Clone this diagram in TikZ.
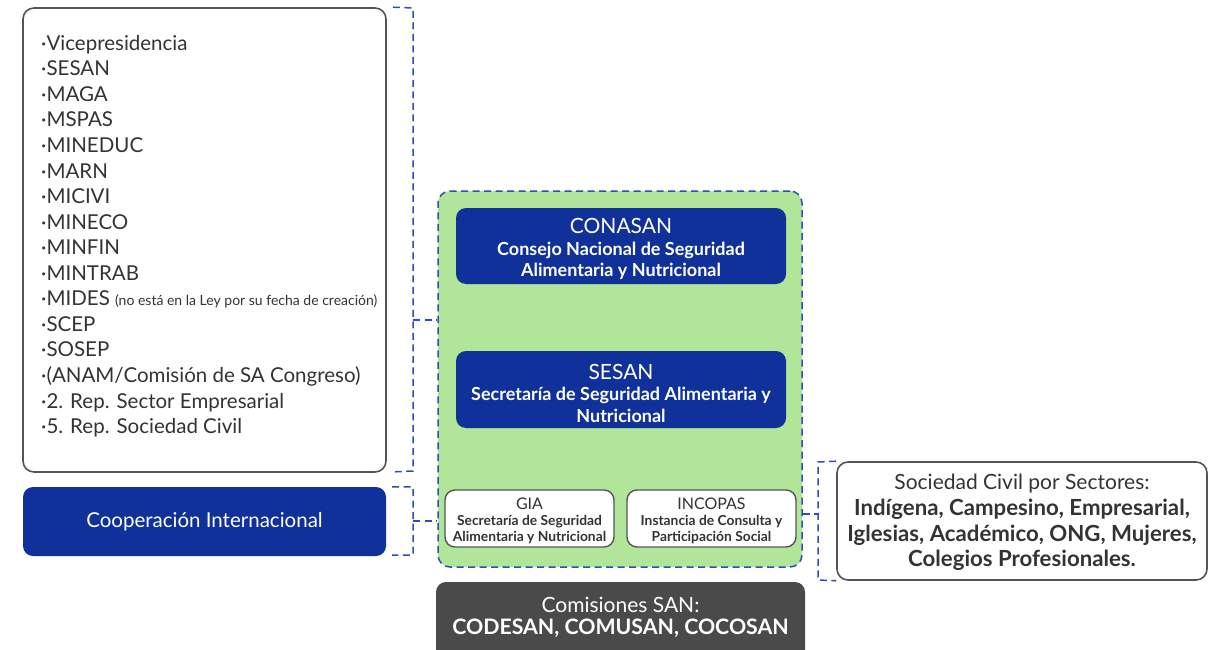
\documentclass[tikz,border=0pt]{standalone}
\usepackage{fontspec}
\setmainfont{Lato}
\usetikzlibrary{calc}
\definecolor{dblue}{HTML}{10309A}
\definecolor{lgreen}{HTML}{B0E59A}
\definecolor{dgray}{HTML}{4A4A4A}
\definecolor{tgray}{HTML}{333333}
\definecolor{bgray}{HTML}{555555}
\definecolor{dashblue}{HTML}{2E4DB5}
\newcommand{\fa}{\fontsize{21}{21.5}\selectfont\mdseries}
\newcommand{\fb}{\fontsize{18}{21.5}\selectfont\bfseries}
\newcommand{\fc}{\fontsize{16}{16}\selectfont\mdseries}
\newcommand{\fd}{\fontsize{13.8}{16}\selectfont\bfseries}
\newcommand{\fe}{\fontsize{21.3}{22}\selectfont\bfseries}
\newcommand{\ff}{\fontsize{22.2}{25.7}\selectfont\bfseries}
\tikzset{
  whitebox/.style={draw=bgray, line width=1.6pt, fill=white, rounded corners=11pt, inner sep=0pt},
  bluebox/.style={fill=dblue, rounded corners=10pt, text=white, align=center, inner sep=0pt},
  smallbox/.style={draw=bgray, line width=1.4pt, fill=white, rounded corners=10pt, align=center, text=tgray, inner sep=0pt},
  dashline/.style={draw=dashblue, line width=1.5pt, dash pattern=on 7pt off 4.5pt},
  lbl/.style={align=center, inner sep=0pt},
}
\begin{document}
\begin{tikzpicture}[x=1pt,y=-1pt]
\useasboundingbox (0,0) rectangle (1210,650);
% left list box
\node[whitebox, minimum width=363pt, minimum height=464pt] (list) at (204.5,240) {};
\node[anchor=north west, align=left, text=tgray, font=\fontsize{20.5}{25.55}\selectfont, inner sep=0pt] (listtxt) at (41,35) {%
·Vicepresidencia\\
·SESAN\\
·MAGA\\
·MSPAS\\
·MINEDUC\\
·MARN\\
·MICIVI\\
·MINECO\\
·MINFIN\\
·MINTRAB\\
·MIDES \fontsize{14}{14}\selectfont(no está en la Ley por su fecha de creación)\\
·SCEP\\
·SOSEP\\
·(ANAM/Comisión de SA Congreso)\\
·2. Rep. Sector Empresarial\\
·5. Rep. Sociedad Civil};
% cooperacion
\node[bluebox, minimum width=363pt, minimum height=69pt, font=\fontsize{20.5}{22}\selectfont] (coop) at (204.5,521.5) {Cooperación Internacional};
% green box
\node[fill=lgreen, rounded corners=12pt, dashline, minimum width=364pt, minimum height=376pt, inner sep=0pt] (green) at (620,379) {};
% CONASAN
\node[bluebox, minimum width=330pt, minimum height=76pt] (conasan) at (621,246) {};
\node[lbl, text=white, font=\fb] (conasanT) at (621,249) {\fa CONASAN\\\fb Consejo Nacional de Seguridad\\\fb Alimentaria y Nutricional};
% SESAN
\node[bluebox, minimum width=330pt, minimum height=77pt] (sesan) at (621,389.5) {};
\node[lbl, text=white, font=\fb] (sesanT) at (621,393) {\fa SESAN\\\fb Secretaría de Seguridad Alimentaria y\\\fb Nutricional};
% GIA
\node[smallbox, minimum width=169pt, minimum height=57pt] (gia) at (529.5,518.5) {};
\node[lbl, text=tgray, font=\fd] (giaT) at (529.5,520.5) {\fc GIA\\\fd Secretaría de Seguridad\\\fd Alimentaria y Nutricional};
% INCOPAS
\node[smallbox, minimum width=169pt, minimum height=57pt] (incopas) at (711.5,518.5) {};
\node[lbl, text=tgray, font=\fd] (incopasT) at (711.5,520.5) {\fc INCOPAS\\\fd Instancia de Consulta y\\\fd Participación Social};
% Comisiones
\node[fill=dgray, rounded corners=10pt, minimum width=369pt, minimum height=80pt, inner sep=0pt] (comis) at (620.5,622) {};
\node[lbl, text=white, font=\fe] (comisT) at (620.5,617) {\fa Comisiones SAN:\\\fe CODESAN, COMUSAN, COCOSAN};
% Sociedad civil
\node[whitebox, minimum width=370pt, minimum height=118pt] (soc) at (1022,521) {};
\node[lbl, text=tgray, font=\ff] (socT) at (1022,522.5) {\fa Sociedad Civil por Sectores:\\\ff Indígena, Campesino, Empresarial,\\\ff Iglesias, Académico, ONG, Mujeres,\\\ff Colegios Profesionales.};
% brackets
\coordinate (b1t) at (413,8);
\coordinate (b1b) at (413,471);
\draw[dashline] ($(list.north east)+(6,0)$) -- (b1t) -- (b1b) -- ($(list.south east)+(8,-1)$);
\draw[dashline] (413,320) -- (green.west |- 0,320);
\coordinate (b2t) at (413,487);
\coordinate (b2b) at (413,555);
\draw[dashline] ($(coop.north east)+(6,0)$) -- (b2t) -- (b2b) -- ($(coop.south east)+(6,-1)$);
\draw[dashline] (413,521) -- (green.west |- 0,521);
\coordinate (b3t) at (818,462);
\coordinate (b3b) at (818,580);
\draw[dashline] (soc.north west) -- (b3t) -- (b3b) -- (soc.south west);
\draw[dashline] (green.east |- 0,514) -- (818,514);
\end{tikzpicture}
\end{document}
